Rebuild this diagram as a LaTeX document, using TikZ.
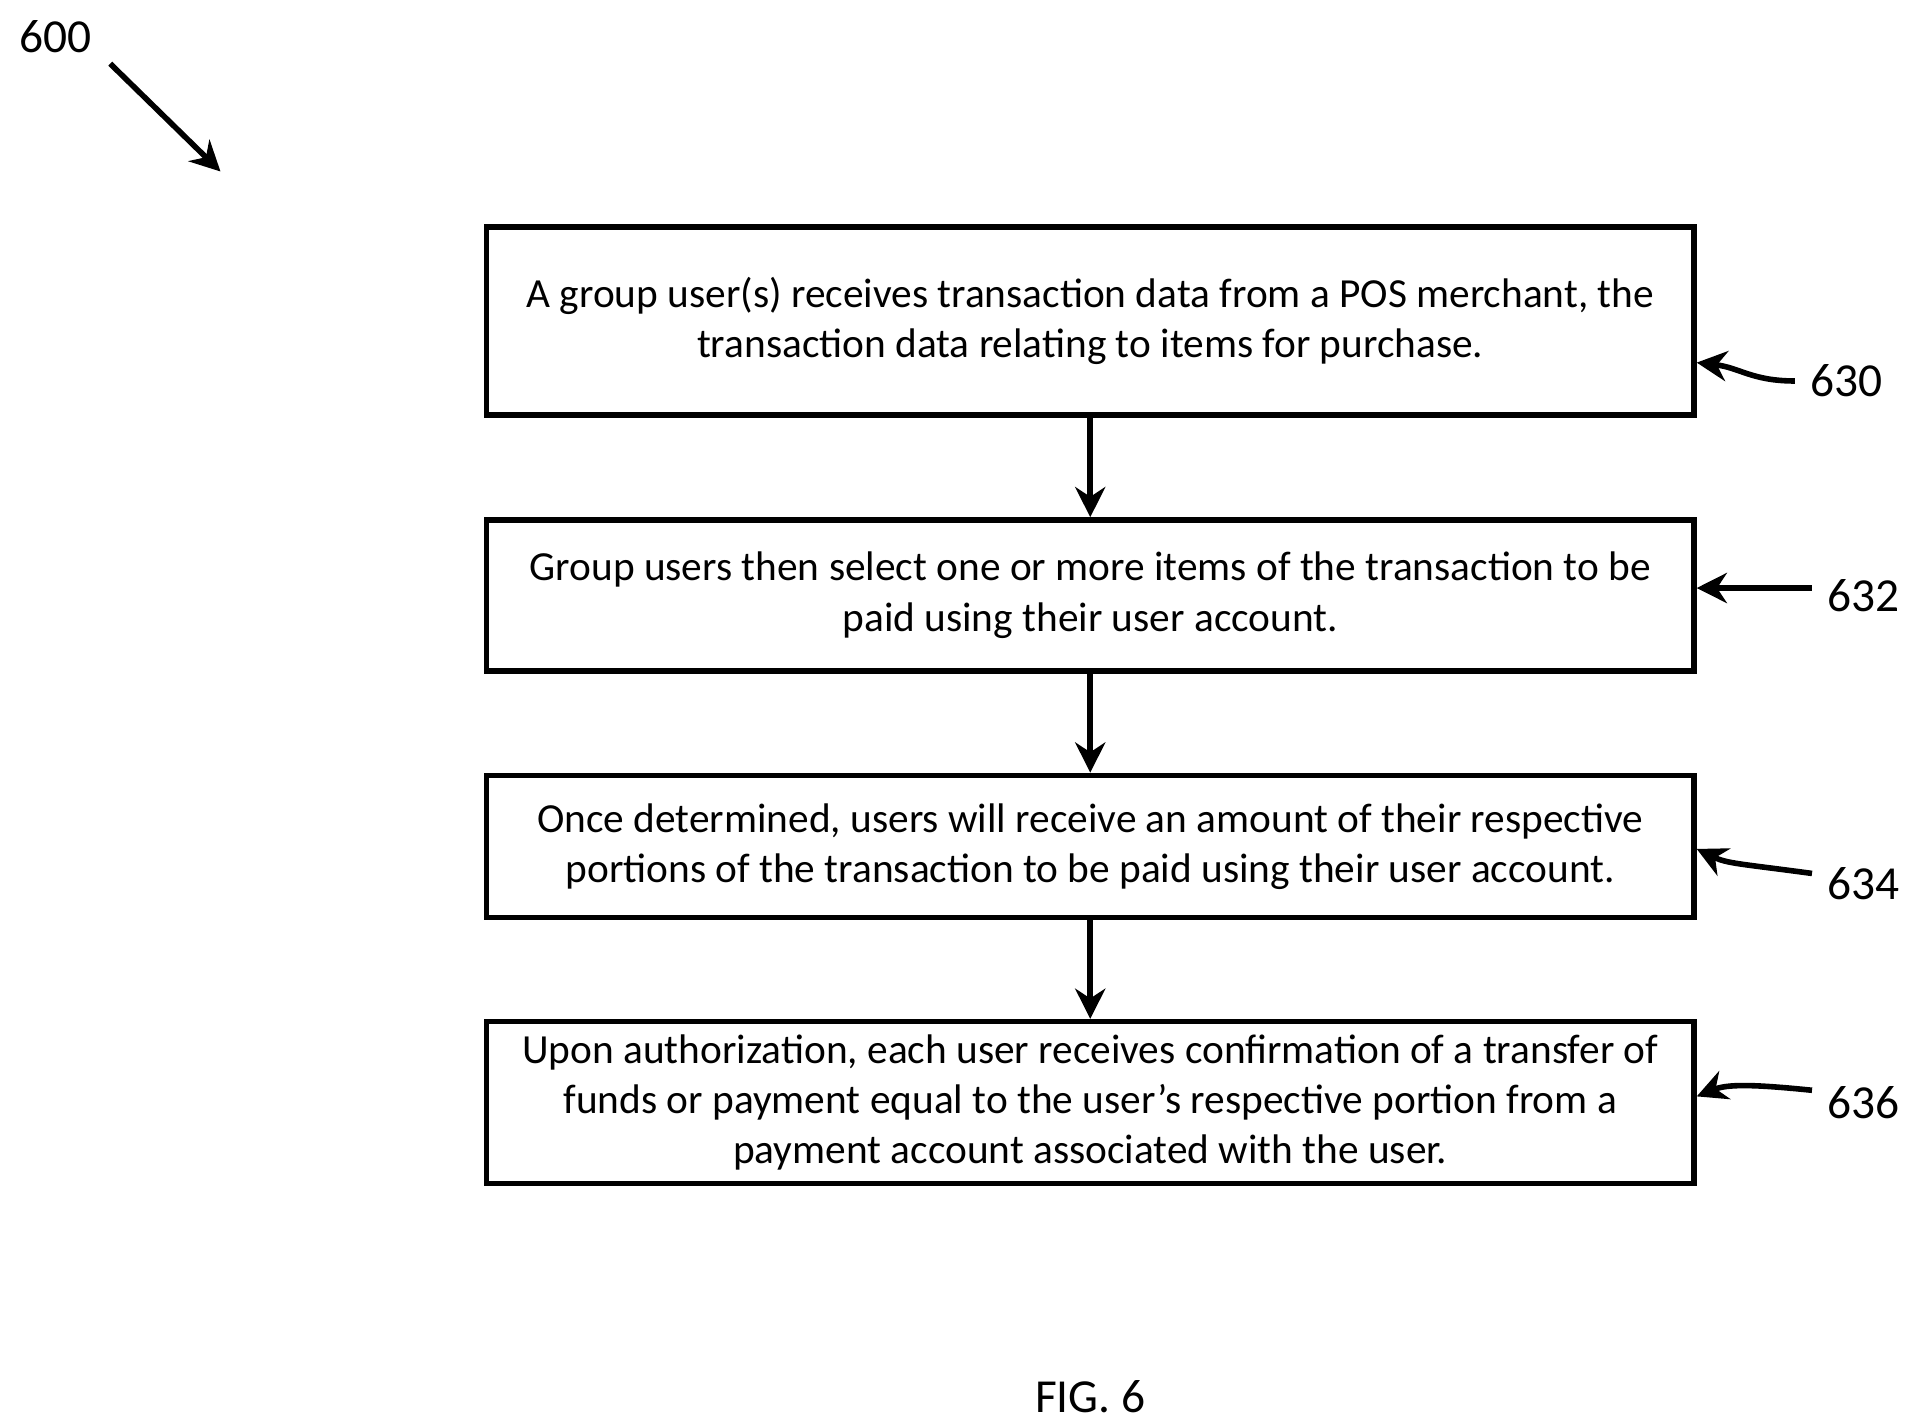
\documentclass[tikz,border=0pt]{standalone}
\usepackage{fontspec}
\setmainfont{Carlito}
\usetikzlibrary{arrows.meta}
\begin{document}
\begin{tikzpicture}[x=0.01cm,y=-0.01cm,
 box/.style={draw,line width=1.3pt,minimum width=9.85cm,align=center,font=\fontsize{9.6}{11.7}\selectfont,inner sep=0},
 arr/.style={-{Stealth[length=7pt,width=7pt]},line width=1.3pt},
 lbl/.style={font=\fontsize{11}{13}\selectfont}]
\useasboundingbox (0,0) rectangle (1560,1163);
\node[box,minimum height=1.53cm] (b1) at (890,262) {A group user(s) receives transaction data from a POS merchant, the\\transaction data relating to items for purchase.};
\node[box,minimum height=1.23cm] (b2) at (890,486) {Group users then select one or more items of the transaction to be\\paid using their user account.};
\node[box,minimum height=1.16cm] (b3) at (890,691) {Once determined, users will receive an amount of their respective\\portions of the transaction to be paid using their user account.};
\node[box,minimum height=1.32cm] (b4) at (890,900) {Upon authorization, each user receives confirmation of a transfer of\\funds or payment equal to the user’s respective portion from a\\payment account associated with the user.};
\draw[arr] (b1) -- (b2);
\draw[arr] (b2) -- (b3);
\draw[arr] (b3) -- (b4);
\node[lbl] (l0) at (45,30) {600};
\coordinate (a0) at (90,52);
\coordinate (e0) at (180,140);
\draw[arr] (a0) -- (e0);
\node[lbl] (l1) at (1507,311) {630};
\node[lbl] (l2) at (1521,486) {632};
\node[lbl] (l3) at (1521,721) {634};
\node[lbl] (l4) at (1521,900) {636};
\draw[arr] (l1.west) .. controls (1430,311) and (1420,300) .. (b1.east|-0,296);
\draw[arr] (l2.west|-0,480) -- (b2.east|-0,480);
\draw[arr] (l3.west|-0,713) .. controls (1420,705) and (1410,705) .. (b3.east|-0,693);
\draw[arr] (l4.west|-0,890) .. controls (1430,885) and (1410,885) .. (b4.east|-0,895);
\node[lbl] (fig) at (890,1140) {FIG. 6};
\end{tikzpicture}
\end{document}
